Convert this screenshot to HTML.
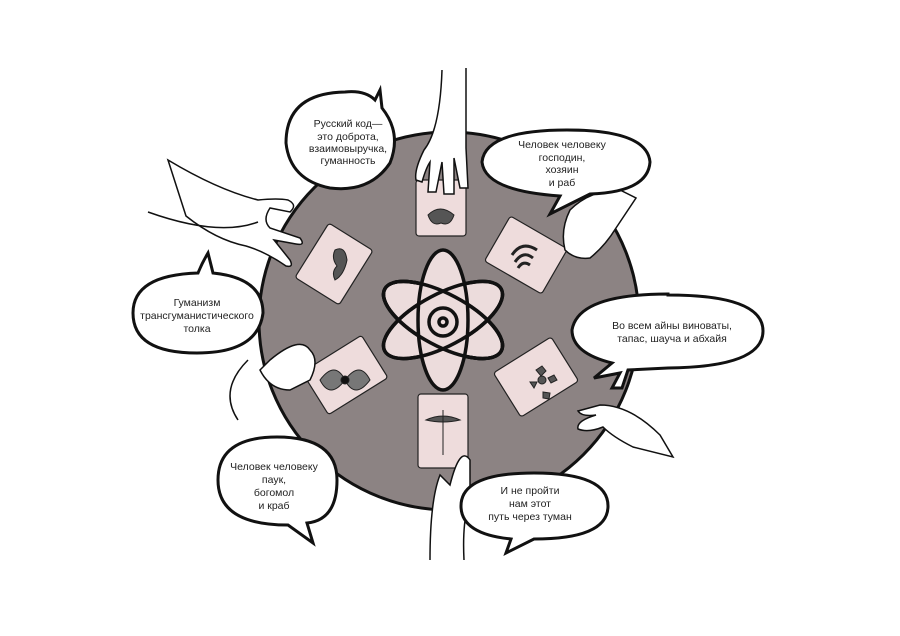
<!DOCTYPE html>
<html><head><meta charset="utf-8"><style>
html,body{margin:0;padding:0;background:#fff}
svg{display:block}
text{font-family:"Liberation Sans",sans-serif;font-size:10.5px;fill:#222;text-anchor:middle}
</style></head><body>
<svg width="900" height="636" viewBox="0 0 900 636" xmlns="http://www.w3.org/2000/svg">
<rect width="900" height="636" fill="#fff"/>
<ellipse cx="449" cy="321" rx="190" ry="189" fill="#8c8383" stroke="#111" stroke-width="3"/>
<g fill="#eedcdc" stroke="#222" stroke-width="1.2">
<rect x="416" y="180" width="50" height="56" rx="3"/>
<rect x="418" y="394" width="50" height="74" rx="3"/>
<rect x="308" y="232" width="52" height="64" rx="3" transform="rotate(32 334 264)"/>
<rect x="500" y="222" width="52" height="66" rx="3" transform="rotate(-60 526 255)"/>
<rect x="510" y="343" width="52" height="68" rx="3" transform="rotate(58 536 377)"/>
<rect x="320" y="340" width="50" height="70" rx="3" transform="rotate(58 345 375)"/>
</g>
<g fill="#555" stroke="#222" stroke-width="1">
<path d="M428 215q12-12 26 0q-4 12-13 8q-9 4-13-8z"/>
<path d="M335 250q10-5 12 10q-3 15-12 20q-4-8 2-14q-6-8-2-16z"/>
<path d="M512 255q10-15 25-5M515 262q8-12 18-4M518 268q5-8 12-3" fill="none" stroke-width="3"/>
<path d="M320 380q15-20 25 0q10 20 25 0q-10-20-25 0q-15 20-25 0z" fill="#777"/>
<circle cx="345" cy="380" r="4" fill="#111"/>
<path d="M536 370l6-4 4 5-5 5zM530 382h7l-3 6zM548 378l6-3 3 5-6 3zM543 392l7 1-1 6-6-1z"/>
<circle cx="542" cy="380" r="4"/>
<path d="M443 410v45M426 420q17-8 34 0q-17 4-34 0z"/>
</g>
<g fill="#ecdcdc" stroke="#111" stroke-width="3.5">
<ellipse cx="443" cy="320" rx="66" ry="26" transform="rotate(28 443 320)"/>
<ellipse cx="443" cy="320" rx="66" ry="26" transform="rotate(-28 443 320)"/>
<ellipse cx="443" cy="320" rx="66" ry="26" transform="rotate(28 443 320)" fill="none"/>
<ellipse cx="443" cy="320" rx="25" ry="70"/>
<ellipse cx="443" cy="320" rx="66" ry="26" transform="rotate(-28 443 320)" fill="none"/>
<ellipse cx="443" cy="320" rx="66" ry="26" transform="rotate(28 443 320)" fill="none"/>
<circle cx="443" cy="322" r="14"/>
<circle cx="443" cy="322" r="4"/>
</g>
<g fill="#fff" stroke="#111" stroke-width="1.5">
<path d="M442 70q-2 60-18 80q-10 20-8 30l6 2q4-14 8-20l-2 30h8l6-30 2 32h10l0-36 6 30h8l-2-40q0-30 0-80"/>
<path d="M168 160q50 30 90 40q20-2 30 0q10 5 2 12l-20-4q-8 12 0 20l30 10q6 8-4 6l-22-4 16 20q4 8-4 6q-20-14-40-20q-30-6-60-30z"/>
<path d="M620 190q-30 0-50 20q-10 20-5 40q10 10 25 8q15-12 26-30l20 -30z"/>
<path d="M660 435q-30-30-60-30l-22 6q4 6 18 4q-20 6-18 14q10 4 25-2q10 10 30 20l40 10z"/>
<path d="M270 360q30-25 40-10q10 10 0 30l-20 10q-20 0-30-20zM238 420q-20-30 10-60"/>
<path d="M430 560q0-60 10-85l10 10q10-40 20-25l0 40q-8 20-6 60"/>
<path d="M148 212q70 25 110 10" fill="none"/>
</g>
<g fill="#fff" stroke="#111" stroke-width="3">
<path d="M345 92q20-2 30 8l5-10 2 18q20 25 8 55q-20 30-60 25q-40-8-44-45q0-50 59-51z"/>
<path d="M567 130q80 0 83 32q-2 30-60 32l-40 20 10-18q-75-5-78-34q3-32 85-32z"/>
<path d="M198 273q4-10 10-20l5 20q50 5 50 40q-5 40-66 40q-64 0-64-40q0-38 65-40z"/>
<path d="M668 295q95 0 95 36q0 36-95 37l-40 2-6 18-10 0 8-15-26 5 18-15q-40-10-40-33q6-36 96-36z"/>
<path d="M277 437q60 0 60 43q0 40-30 43l6 20-25-18q-70 0-70-45q0-43 59-43z"/>
<path d="M534 473q74 0 74 33q0 33-74 33l-28 14 5-14q-50-5-50-33q0-33 73-33z"/>
</g>
<text x="348" y="127">Русский код—</text><text x="348" y="140">это доброта,</text><text x="348" y="152">взаимовыручка,</text><text x="348" y="164">гуманность</text>
<text x="562" y="148">Человек человеку</text><text x="562" y="161">господин,</text><text x="562" y="173">хозяин</text><text x="562" y="186">и раб</text>
<text x="197" y="306">Гуманизм</text><text x="197" y="319">трансгуманистического</text><text x="197" y="332">толка</text>
<text x="672" y="329">Во всем айны виноваты,</text><text x="672" y="342">тапас, шауча и абхайя</text>
<text x="274" y="470">Человек человеку</text><text x="274" y="483">паук,</text><text x="274" y="496">богомол</text><text x="274" y="509">и краб</text>
<text x="530" y="494">И не пройти</text><text x="530" y="507">нам этот</text><text x="530" y="520">путь через туман</text>
</svg>
</body></html>
